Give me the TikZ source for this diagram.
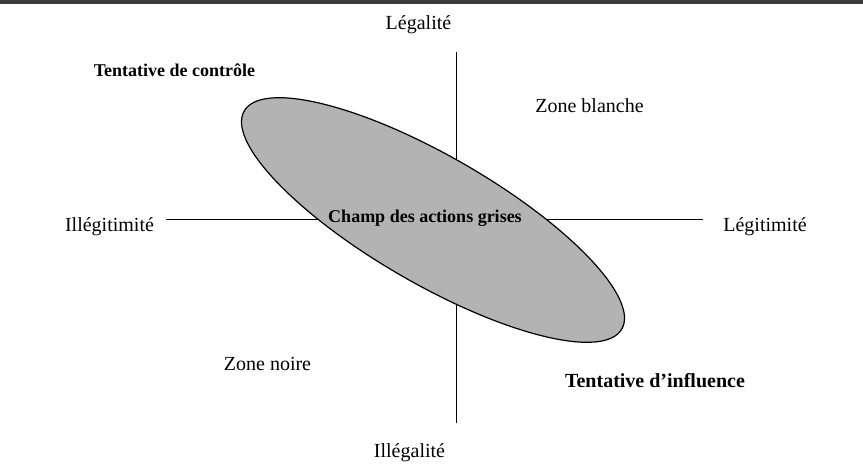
\documentclass[tikz,border=0pt]{standalone}
\usepackage{fontspec}
\setmainfont{Liberation Serif}
\usetikzlibrary{shapes.geometric}
\definecolor{bargray}{HTML}{3C3C3C}
\definecolor{fieldgray}{HTML}{B3B3B3}
\tikzset{
  lbl/.style={inner sep=0pt, anchor=base, font=\fontsize{20}{24}\selectfont},
  blbl/.style={inner sep=0pt, anchor=base, font=\fontsize{20}{24}\selectfont\bfseries},
  sblbl/.style={inner sep=0pt, anchor=base, font=\fontsize{18}{22}\selectfont\bfseries},
  axis/.style={line width=0.9pt, black},
  field/.style={ellipse, draw=black, line width=1.2pt, fill=fieldgray, inner sep=0pt,
                minimum width=436pt, minimum height=128pt}
}
\begin{document}
\begin{tikzpicture}[x=1pt, y=-1pt]
\useasboundingbox (0,0) rectangle (863,469);
\fill[bargray] (0,0) rectangle (863,4);
% axes
\coordinate (vtop) at (456,52);
\coordinate (vbot) at (456,423);
\coordinate (hleft) at (166,219);
\coordinate (hright) at (703,219);
\draw[axis] (vtop) -- (vbot);
\draw[axis] (hleft) -- (hright);
% field of grey actions
\node[field, rotate=-30] (champ) at (433,220) {};
\node[sblbl] (champlbl) at (425,222) {Champ des actions grises};
% axis labels
\node[lbl] (legalite) at (418.5,29) {Légalité};
\node[lbl] (illegalite) at (409.5,457) {Illégalité};
\node[lbl] (illegitimite) at (109.5,231) {Illégitimité};
\node[lbl] (legitimite) at (765,231) {Légitimité};
% zones
\node[lbl] (blanche) at (589.5,112) {Zone blanche};
\node[lbl] (noire) at (267.5,370) {Zone noire};
\node[sblbl] (controle) at (174.5,76) {Tentative de contrôle};
\node[blbl] (influence) at (655,387) {Tentative d’influence};
\end{tikzpicture}
\end{document}
